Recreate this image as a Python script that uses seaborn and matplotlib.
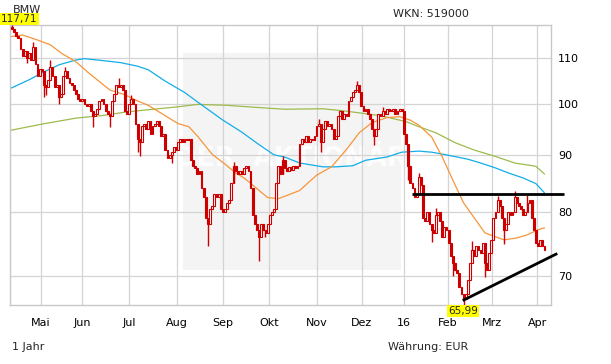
import matplotlib
matplotlib.use("Agg")
import matplotlib.pyplot as plt
import matplotlib.patches as mpatches
import numpy as np
import pandas as pd
import seaborn as sns

# ---------------- data ----------------
closes = [
    116.8, 116.0, 115.0, 114.5, 112.0, 110.5, 111.5, 110.0, 111.0, 109.5,
    112.5, 108.5, 106.0, 107.5, 107.0, 104.0, 103.5, 105.0, 108.0, 106.0,
    103.5, 104.0, 101.5, 102.0, 106.0, 107.0, 105.5, 104.5, 104.0, 103.0,
    102.0, 101.0, 100.5, 101.0, 100.0, 99.5, 100.0, 98.5, 97.5, 98.0,
    99.0, 100.5, 101.0, 100.0, 98.5, 98.0, 97.5, 100.5, 102.0, 104.0,
    103.5, 104.0, 103.0, 98.5, 98.0, 100.0, 101.0, 100.0, 96.0, 93.0,
    92.5, 95.5, 96.0, 95.0, 96.5, 94.0, 95.5, 96.0, 96.5, 95.5,
    93.5, 94.0, 91.0, 89.5, 90.0, 90.5, 91.5, 91.0, 92.5, 93.0,
    92.5, 93.0, 92.8, 93.0, 89.0, 88.0, 87.5, 86.5, 87.0, 84.0,
    82.5, 79.0, 78.0, 80.5, 81.0, 83.0, 82.5, 83.0, 80.5, 80.0,
    80.5, 81.5, 82.0, 85.0, 88.0, 87.0, 86.5, 87.0, 86.5, 87.5,
    88.0, 87.0, 84.0, 79.5, 78.0, 77.0, 76.0, 78.0, 77.0, 76.5,
    78.0, 79.5, 80.0, 80.5, 85.0, 88.0, 86.5, 89.0, 87.5, 87.0,
    87.8, 87.3, 88.0, 87.5, 88.0, 92.0, 93.0, 92.5, 93.5, 92.5,
    93.0, 92.8, 93.5, 95.5, 96.0, 92.5, 95.0, 96.5, 95.5, 96.0,
    95.0, 93.0, 93.5, 97.5, 98.5, 97.0, 98.0, 97.5, 100.5, 101.5,
    102.5, 103.0, 104.0, 102.5, 99.5, 98.5, 99.0, 98.0, 97.0, 95.0,
    93.5, 95.0, 98.0, 97.5, 98.5, 98.0, 99.0, 98.5, 98.5, 99.0,
    98.0, 98.5, 99.0, 98.5, 94.0, 92.0, 88.0, 85.0, 84.0, 82.5,
    83.0, 86.0, 84.5, 79.0, 78.5, 80.0, 78.0, 77.0, 76.5, 79.5,
    80.0, 78.5, 76.0, 77.5, 77.0, 75.0, 73.0, 72.0, 71.0, 70.5,
    68.5, 67.5, 66.8, 67.5, 69.5, 72.0, 74.0, 73.0, 74.5, 74.0,
    73.5, 75.0, 72.0, 71.0, 73.5, 75.5, 79.0, 80.0, 82.0, 81.0,
    79.0, 77.0, 78.0, 80.0, 79.5, 80.0, 82.5, 81.5, 81.0, 80.5,
    79.5, 80.0, 81.5, 82.0, 79.0, 77.0, 75.0, 74.5, 75.5, 74.5,
    74.0,
]
first_open = 117.3
# notable wicks (day index -> price)
wick_highs = {0: 117.71, 10: 113.7, 18: 109.5, 25: 108.0, 50: 105.5, 56: 101.8,
              104: 88.6, 127: 89.8, 144: 97.0, 162: 104.8, 174: 99.3, 191: 86.7,
              199: 80.6, 216: 75.3, 228: 82.7, 236: 83.5, 242: 82.8}
wick_lows = {7: 108.8, 15: 101.5, 16: 101.8, 22: 100.0, 38: 95.3, 46: 95.4,
             60: 89.7, 75: 88.5, 59: 90.5, 92: 74.5, 116: 72.3, 119: 76.0,
             145: 90.5, 170: 91.8, 186: 85.5, 197: 75.2, 207: 70.0, 212: 65.99,
             222: 69.9, 231: 74.8}

# moving averages (sampled along the drawn curves)
ma38_days = [-0.5, 5, 12, 18, 23, 30, 36, 40, 46, 53, 58, 64, 70, 78, 83, 87, 94, 100,
             105, 109, 120, 125, 135, 143, 150, 157, 163, 169, 176, 182, 187, 191,
             197, 202, 207, 212, 222, 231, 237, 242, 247, 250]
ma38_vals = [114.9, 115.3, 114.1, 113.0, 111.1, 109.1, 106.6, 105.1, 102.9, 101.9, 100.8,
             99.7, 98.1, 96.0, 95.4, 93.6, 90.1, 88.3, 86.7, 85.8, 82.4, 82.2, 83.6,
             86.3, 87.8, 91.0, 94.2, 96.2, 97.2, 97.4, 96.7, 95.7, 93.4, 89.6, 85.4,
             81.5, 76.6, 75.5, 75.8, 76.3, 77.1, 77.4]
ma100_days = [-0.5, 8, 14, 22, 30, 34, 42, 51, 59, 64, 72, 81, 89, 99, 108, 115, 123, 128,
              135, 146, 152, 160, 166, 176, 183, 191, 197, 204, 214, 220, 227, 233, 240, 246, 250]
ma100_vals = [103.3, 105.1, 106.6, 108.4, 109.5, 109.8, 109.4, 108.9, 108.1, 107.3, 104.8,
              102.4, 99.8, 96.7, 94.3, 92.2, 90.0, 89.6, 88.5, 87.8, 87.8, 88.0, 89.0,
              89.6, 90.5, 90.7, 90.5, 90.0, 89.2, 88.5, 87.6, 86.7, 85.8, 84.8, 83.2]
ma200_days = [-0.5, 14, 30, 42, 53, 64, 78, 87, 101, 114, 128, 146, 157, 173, 185, 191,
              199, 208, 217, 227, 236, 246, 250]
ma200_vals = [94.7, 95.9, 97.1, 97.6, 98.3, 98.8, 99.4, 99.9, 99.7, 99.3, 98.9, 99.0, 98.5,
              97.6, 96.4, 95.4, 94.2, 92.3, 90.9, 89.7, 88.5, 87.9, 86.5]

# trend lines drawn on the chart (day, price)
resist_days = [188, 259]
resist_vals = [83.0, 83.0]
support_days = [211.6, 256.0]
support_vals = [66.6, 73.4]

month_days = [13.6, 32.9, 54.9, 77.5, 99.1, 120.7, 143.2, 164.3, 184.0, 204.7, 225.4, 246.5]
month_labels = ["Mai", "Jun", "Jul", "Aug", "Sep", "Okt", "Nov", "Dez", "16", "Feb", "Mrz", "Apr"]
y_ticks = [70, 80, 90, 100, 110]
y_min, y_max = 65.99, 117.71

# ---------------- style ----------------
sns.set_style("white")
plt.rcParams["font.family"] = ["DejaVu Sans"]

RED = "#cc0000"
GRID = "#d4d4d4"

fig = plt.figure(figsize=(6.11, 3.64), dpi=100)
fig.patch.set_facecolor("white")
ax = fig.add_axes([10 / 611, 59 / 364, 541 / 611, 280 / 364])
ax.set_facecolor("white")
ax.set_yscale("log")
ax.set_xlim(-0.94, 253.05)
ax.set_ylim(y_min, y_max)

# watermark panel
ax.add_patch(mpatches.Rectangle((0.32, 0.125), 0.403, 0.775, transform=ax.transAxes,
                                facecolor="#f4f4f4", edgecolor="none", zorder=0))
ax.text(0.52, 0.52, "DER  AKTIONÄR", transform=ax.transAxes, ha="center", va="center",
        fontsize=19, fontweight="bold", color="white", alpha=0.85, zorder=0.5)

# grid
for yt in y_ticks:
    ax.axhline(yt, color=GRID, lw=0.9, zorder=1)
for md in month_days:
    ax.axvline(md, color=GRID, lw=0.9, zorder=1)
for s in ax.spines.values():
    s.set_color("#c8c8c8")
    s.set_linewidth(1.0)

# moving averages via seaborn
for days, vals, col in [(ma200_days, ma200_vals, "#9dbb4c"),
                        (ma100_days, ma100_vals, "#12aee8"),
                        (ma38_days, ma38_vals, "#f7953a")]:
    dfm = pd.DataFrame({"day": days, "val": vals})
    sns.lineplot(data=dfm, x="day", y="val", ax=ax, color=col, lw=0.9, zorder=2,
                 estimator=None, sort=False)

# candlesticks
n = len(closes)
opens = [first_open] + closes[:-1]
for i in range(n):
    o, c = opens[i], closes[i]
    lo, hi = min(o, c), max(o, c)
    h = wick_highs.get(i, hi)
    l = wick_lows.get(i, lo)
    if h > hi or l < lo:
        ax.vlines(i, l, h, color=RED, lw=1.0, zorder=3)
    up = c > o
    ax.bar(i, max(hi - lo, 0.15), bottom=lo, width=0.85,
           facecolor="white" if up else RED, edgecolor=RED, linewidth=0.8, zorder=4)

# trend lines
ax.plot(resist_days, resist_vals, color="black", lw=2.0, zorder=5, clip_on=False,
        solid_capstyle="butt")
ax.plot(support_days, support_vals, color="black", lw=2.0, zorder=5, clip_on=False,
        solid_capstyle="butt")

# axes ticks
ax.set_xlabel("")
ax.set_ylabel("")
ax.set_xticks(month_days)
ax.set_xticklabels(month_labels)
ax.yaxis.tick_right()
ax.set_yticks(y_ticks)
ax.set_yticklabels([str(v) for v in y_ticks])
ax.yaxis.set_minor_locator(matplotlib.ticker.NullLocator())
ax.tick_params(axis="y", length=0, pad=5, labelsize=8, colors="black")
ax.tick_params(axis="x", length=0, pad=9, labelsize=8, colors="black")

# texts
fig.text(13 / 611, 1 - 10 / 364, "BMW", fontsize=8, va="center", ha="left")
fig.text(393 / 611, 1 - 14 / 364, "WKN: 519000", fontsize=8, va="center", ha="left")
fig.text(12 / 611, 1 - 347 / 364, "1 Jahr", fontsize=8, va="center", ha="left")
fig.text(388 / 611, 1 - 347 / 364, "Währung: EUR", fontsize=8, va="center", ha="left")

# value flags
fig.text(1 / 611, 1 - 19 / 364, "117,71", fontsize=7.5, va="center", ha="left",
         bbox=dict(boxstyle="square,pad=0.12", facecolor="#ffff00", edgecolor="none"))
fig.text(463 / 611, 1 - 311 / 364, "65,99", fontsize=7.5, va="center", ha="center",
         bbox=dict(boxstyle="square,pad=0.12", facecolor="#ffff00", edgecolor="none"))

fig.savefig("out.png", dpi=100, facecolor="white")
